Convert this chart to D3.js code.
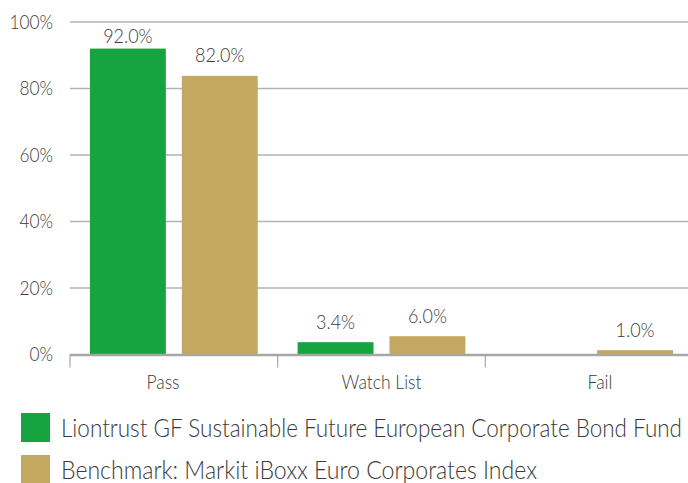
<!DOCTYPE html>
<html><head><meta charset="utf-8">
<script src="https://cdn.jsdelivr.net/npm/d3@7"></script>
<style>
html,body{margin:0;padding:0;background:#fff;}
svg{display:block;}
text{font-family:"Lato","Open Sans",sans-serif;font-weight:300;fill:#3a3a3a;}
</style></head>
<body>
<svg id="chart" width="688" height="483"></svg>
<script>
const categories = ["Pass", "Watch List", "Fail"];
const seriesNames = ["Liontrust GF Sustainable Future European Corporate Bond Fund",
                     "Benchmark: Markit iBoxx Euro Corporates Index"];
const fundValues = [92.0, 3.7, 0];
const benchValues = [83.8, 5.5, 1.3];
const fundLabels = ["92.0%", "3.4%", ""];
const benchLabels = ["82.0%", "6.0%", "1.0%"];
const yTicks = [0, 20, 40, 60, 80, 100];
const colors = ["#15a43f", "#c3a862"];

const svg = d3.select("#chart");
const x0 = d3.scaleBand().domain(categories).range([70, 693]).paddingInner(0).paddingOuter(0);
const x1 = d3.scaleBand().domain([0, 1]).range([0, x0.bandwidth()]).paddingInner(0.174).paddingOuter(0.217);
const xl = d3.scalePoint().domain(categories).range([163, 600]);
const y = d3.scaleLinear().domain([0, 100]).range([354.5, 22]);

function squeeze(sel, k) {
  sel.each(function () {
    const w = this.getComputedTextLength();
    if (w > 0) d3.select(this).attr("textLength", w * k).attr("lengthAdjust", "spacingAndGlyphs");
  });
}

// gridlines
svg.append("g").selectAll("line").data(yTicks.filter(d => d > 0)).join("line")
  .attr("x1", 70).attr("x2", 688)
  .attr("y1", d => y(d)).attr("y2", d => y(d))
  .attr("stroke", "#b3b3b3").attr("stroke-width", 1.5);

// y labels
svg.append("g").selectAll("text").data(yTicks).join("text")
  .attr("x", 53).attr("y", d => y(d)).attr("dy", "0.35em")
  .attr("text-anchor", "end").attr("font-size", 19)
  .text(d => d + "%").call(squeeze, 0.91);

const series = [fundValues, benchValues];
const labels = [fundLabels, benchLabels];
series.forEach((vals, s) => {
  const g = svg.append("g");
  g.selectAll("rect").data(categories).join("rect")
    .attr("x", c => x0(c) + x1(s)).attr("width", x1.bandwidth())
    .attr("y", (c, i) => y(vals[i])).attr("height", (c, i) => y(0) - y(vals[i]))
    .attr("fill", colors[s]);
  g.selectAll("text").data(categories).join("text")
    .attr("x", c => x0(c) + x1(s) + x1.bandwidth() / 2)
    .attr("y", (c, i) => Math.max(y(vals[i]) - 13.5, y(100) + 21))
    .attr("text-anchor", "middle").attr("font-size", 19.5)
    .text((c, i) => labels[s][i]).call(squeeze, 0.92);
});

// baseline
svg.append("line").attr("x1", 70).attr("x2", 688).attr("y1", y(0) + 0.5).attr("y2", y(0) + 0.5)
  .attr("stroke", "#a6a6a6").attr("stroke-width", 2.5);
// category ticks
svg.append("g").selectAll("line").data(categories).join("line")
  .attr("x1", c => x0(c)).attr("x2", c => x0(c))
  .attr("y1", y(0)).attr("y2", y(0) + 13)
  .attr("stroke", "#a6a6a6").attr("stroke-width", 1.2);

// category labels
svg.append("g").selectAll("text").data(categories).join("text")
  .attr("x", c => xl(c)).attr("y", 389)
  .attr("text-anchor", "middle").attr("font-size", 19)
  .text(c => c).call(squeeze, 0.92);

// legend
const legendWidths = [621, 476];
const lg = svg.append("g");
seriesNames.forEach((n, i) => {
  lg.append("rect").attr("x", 21).attr("y", 413 + i * 42).attr("width", 29).attr("height", 29).attr("fill", colors[i]);
  lg.append("text").attr("transform", `translate(61,${436.5 + i * 42}) scale(1,1.12)`)
    .attr("font-size", 22)
    .attr("textLength", legendWidths[i]).attr("lengthAdjust", "spacingAndGlyphs").text(n);
});
</script>
</body></html>
